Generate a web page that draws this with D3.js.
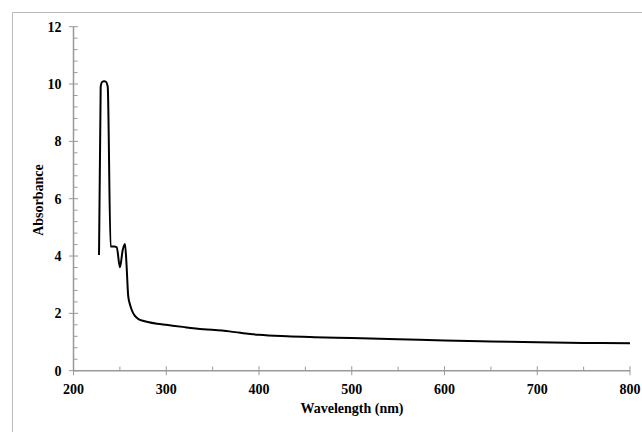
<!DOCTYPE html>
<html>
<head>
<meta charset="utf-8">
<script src="https://cdn.jsdelivr.net/npm/d3@7"></script>
<style>
  body { margin: 0; background: #fff; }
  text { font-family: "Liberation Serif", "Times New Roman", serif; font-weight: bold; }
</style>
</head>
<body>
<div id="chart"></div>
<script>
// spectrum
const wavelength = [227.5, 229.3, 231, 233, 235, 236.9, 240, 244, 246.6, 250.1, 253, 255.5, 257, 259, 261, 263, 266, 270, 275, 280, 290, 300, 320, 340, 360, 380, 400, 430, 460, 500, 550, 600, 650, 700, 750, 800];
const absorbance = [4.04, 9.9, 10.08, 10.1, 10.08, 9.9, 4.33, 4.33, 4.3, 3.61, 4.2, 4.42, 3.8, 2.6, 2.3, 2.1, 1.92, 1.8, 1.74, 1.7, 1.64, 1.6, 1.52, 1.45, 1.4, 1.32, 1.25, 1.2, 1.17, 1.14, 1.1, 1.05, 1.02, 0.99, 0.97, 0.955];
const xTicks = [200, 300, 400, 500, 600, 700, 800];
const yTicks = [0, 2, 4, 6, 8, 10, 12];

const width = 642, height = 432;
const plotLeft = 73.5, plotRight = 630, plotTop = 26.7, plotBottom = 370.7;
const axisColor = '#999';

const svg = d3.select('#chart').append('svg')
    .attr('width', width)
    .attr('height', height);

// outer frame (runs off the right and bottom)
svg.append('rect')
    .attr('x', 12.5).attr('y', 12.5)
    .attr('width', 700).attr('height', 500)
    .attr('fill', 'none')
    .attr('stroke', '#bbb')
    .attr('stroke-width', 1);

const xScale = d3.scaleLinear().domain([200, 800]).range([plotLeft, plotRight]);
const yScale = d3.scaleLinear().domain([0, 12]).range([plotBottom, plotTop]);

// x axis
const gx = svg.append('g').attr('transform', `translate(0,${plotBottom})`);
gx.append('line')
    .attr('x1', plotLeft).attr('x2', plotRight)
    .attr('stroke', axisColor).attr('stroke-width', 1.5);
gx.selectAll('.minor')
    .data(d3.range(250, 800, 100))
    .join('line')
    .attr('x1', d => xScale(d)).attr('x2', d => xScale(d))
    .attr('y1', 0).attr('y2', -4)
    .attr('stroke', axisColor).attr('stroke-width', 1);
gx.selectAll('.major')
    .data(xTicks)
    .join('line')
    .attr('x1', d => xScale(d)).attr('x2', d => xScale(d))
    .attr('y1', -4.5).attr('y2', 4.5)
    .attr('stroke', axisColor).attr('stroke-width', 1);
gx.selectAll('text')
    .data(xTicks)
    .join('text')
    .attr('x', d => xScale(d))
    .attr('y', 23)
    .attr('text-anchor', 'middle')
    .attr('font-size', 14)
    .text(d => d);

// y axis
const gy = svg.append('g').attr('transform', `translate(${plotLeft},0)`);
gy.append('line')
    .attr('y1', plotTop).attr('y2', plotBottom)
    .attr('stroke', axisColor).attr('stroke-width', 1.5);
gy.selectAll('.minor')
    .data(d3.range(0, 12, 0.4).filter(v => Math.abs(v / 2 - Math.round(v / 2)) > 0.01))
    .join('line')
    .attr('y1', d => yScale(d)).attr('y2', d => yScale(d))
    .attr('x1', 0).attr('x2', 4)
    .attr('stroke', axisColor).attr('stroke-width', 1);
gy.selectAll('.major')
    .data(yTicks)
    .join('line')
    .attr('y1', d => yScale(d)).attr('y2', d => yScale(d))
    .attr('x1', -4.5).attr('x2', 4.5)
    .attr('stroke', axisColor).attr('stroke-width', 1);
gy.selectAll('text')
    .data(yTicks)
    .join('text')
    .attr('x', -12)
    .attr('y', d => yScale(d) + 5)
    .attr('text-anchor', 'end')
    .attr('font-size', 14)
    .text(d => d);

// axis labels
svg.append('text')
    .attr('x', 352)
    .attr('y', 413)
    .attr('text-anchor', 'middle')
    .attr('font-size', 14)
    .text('Wavelength (nm)');

svg.append('text')
    .attr('transform', 'translate(43,200) rotate(-90)')
    .attr('text-anchor', 'middle')
    .attr('font-size', 14)
    .text('Absorbance');

// spectrum
const points = wavelength.map((w, i) => [w, absorbance[i]]);
svg.append('path')
    .datum(points)
    .attr('fill', 'none')
    .attr('stroke', '#000')
    .attr('stroke-width', 2)
    .attr('stroke-linejoin', 'round')
    .attr('d', d3.line()
        .x(d => xScale(d[0]))
        .y(d => yScale(d[1]))
        .curve(d3.curveMonotoneX));
</script>
</body>
</html>
